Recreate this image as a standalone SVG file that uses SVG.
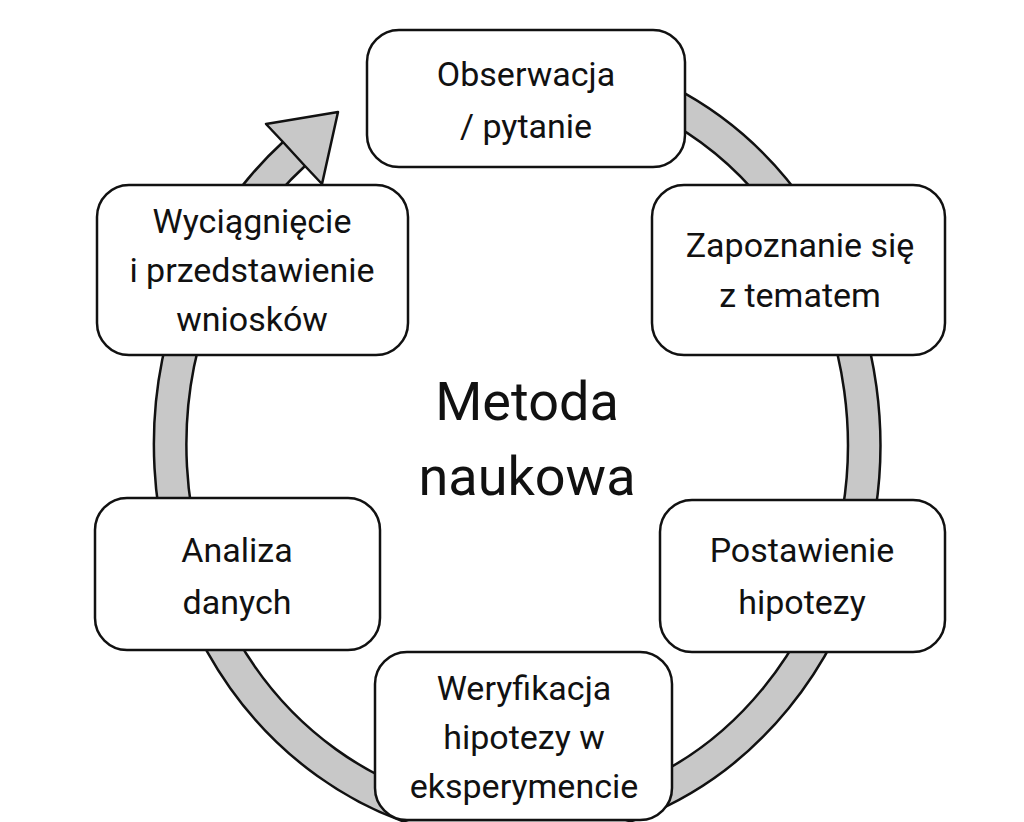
<svg xmlns="http://www.w3.org/2000/svg" width="1024" height="822" viewBox="0 0 1024 822">
<style>
.b{fill:#fff;stroke:#111;stroke-width:2.5}
.t{font-family:Roboto,"Liberation Sans",sans-serif;font-size:34px;fill:#111;text-anchor:middle}
.r{fill:none}
</style>
<rect width="1024" height="822" fill="#fff"/>
<g id="connectors">
<path class="r" d="M517,65 A347,380 0 1 1 294,154" stroke="#111" stroke-width="35"/>
<path class="r" d="M517,65 A347,380 0 1 1 294,154" stroke="#c8c8c8" stroke-width="30"/>
<polygon points="283,142 266,124 338,112 322,184 305,166" fill="#c8c8c8" stroke="#111" stroke-width="2.5" stroke-linejoin="round"/>
</g>
<g id="n1"><rect class="b" x="367" y="30" width="318" height="137" rx="32"/><text class="t" x="526" y="86">Obserwacja</text><text class="t" x="526" y="138">/ pytanie</text></g>
<g id="n2"><rect class="b" x="652" y="185" width="293" height="170" rx="32"/><text class="t" x="800" y="257">Zapoznanie się</text><text class="t" x="800" y="307">z tematem</text></g>
<g id="n3"><rect class="b" x="660" y="500" width="285" height="152" rx="32"/><text class="t" x="802" y="562">Postawienie</text><text class="t" x="802" y="614">hipotezy</text></g>
<g id="n4"><rect class="b" x="375" y="652" width="297" height="168" rx="32"/><text class="t" x="524" y="700">Weryfikacja</text><text class="t" x="524" y="749">hipotezy w</text><text class="t" x="524" y="798">eksperymencie</text></g>
<g id="n5"><rect class="b" x="95" y="498" width="285" height="152" rx="32"/><text class="t" x="237" y="562">Analiza</text><text class="t" x="237" y="614">danych</text></g>
<g id="n6"><rect class="b" x="97" y="185" width="311" height="170" rx="32"/><text class="t" x="252" y="233">Wyciągnięcie</text><text class="t" x="252" y="282">i przedstawienie</text><text class="t" x="252" y="331">wniosków</text></g>
<g id="title"><text class="t" x="527" y="420" style="font-size:54px">Metoda</text><text class="t" x="527" y="495" style="font-size:54px">naukowa</text></g>
</svg>
